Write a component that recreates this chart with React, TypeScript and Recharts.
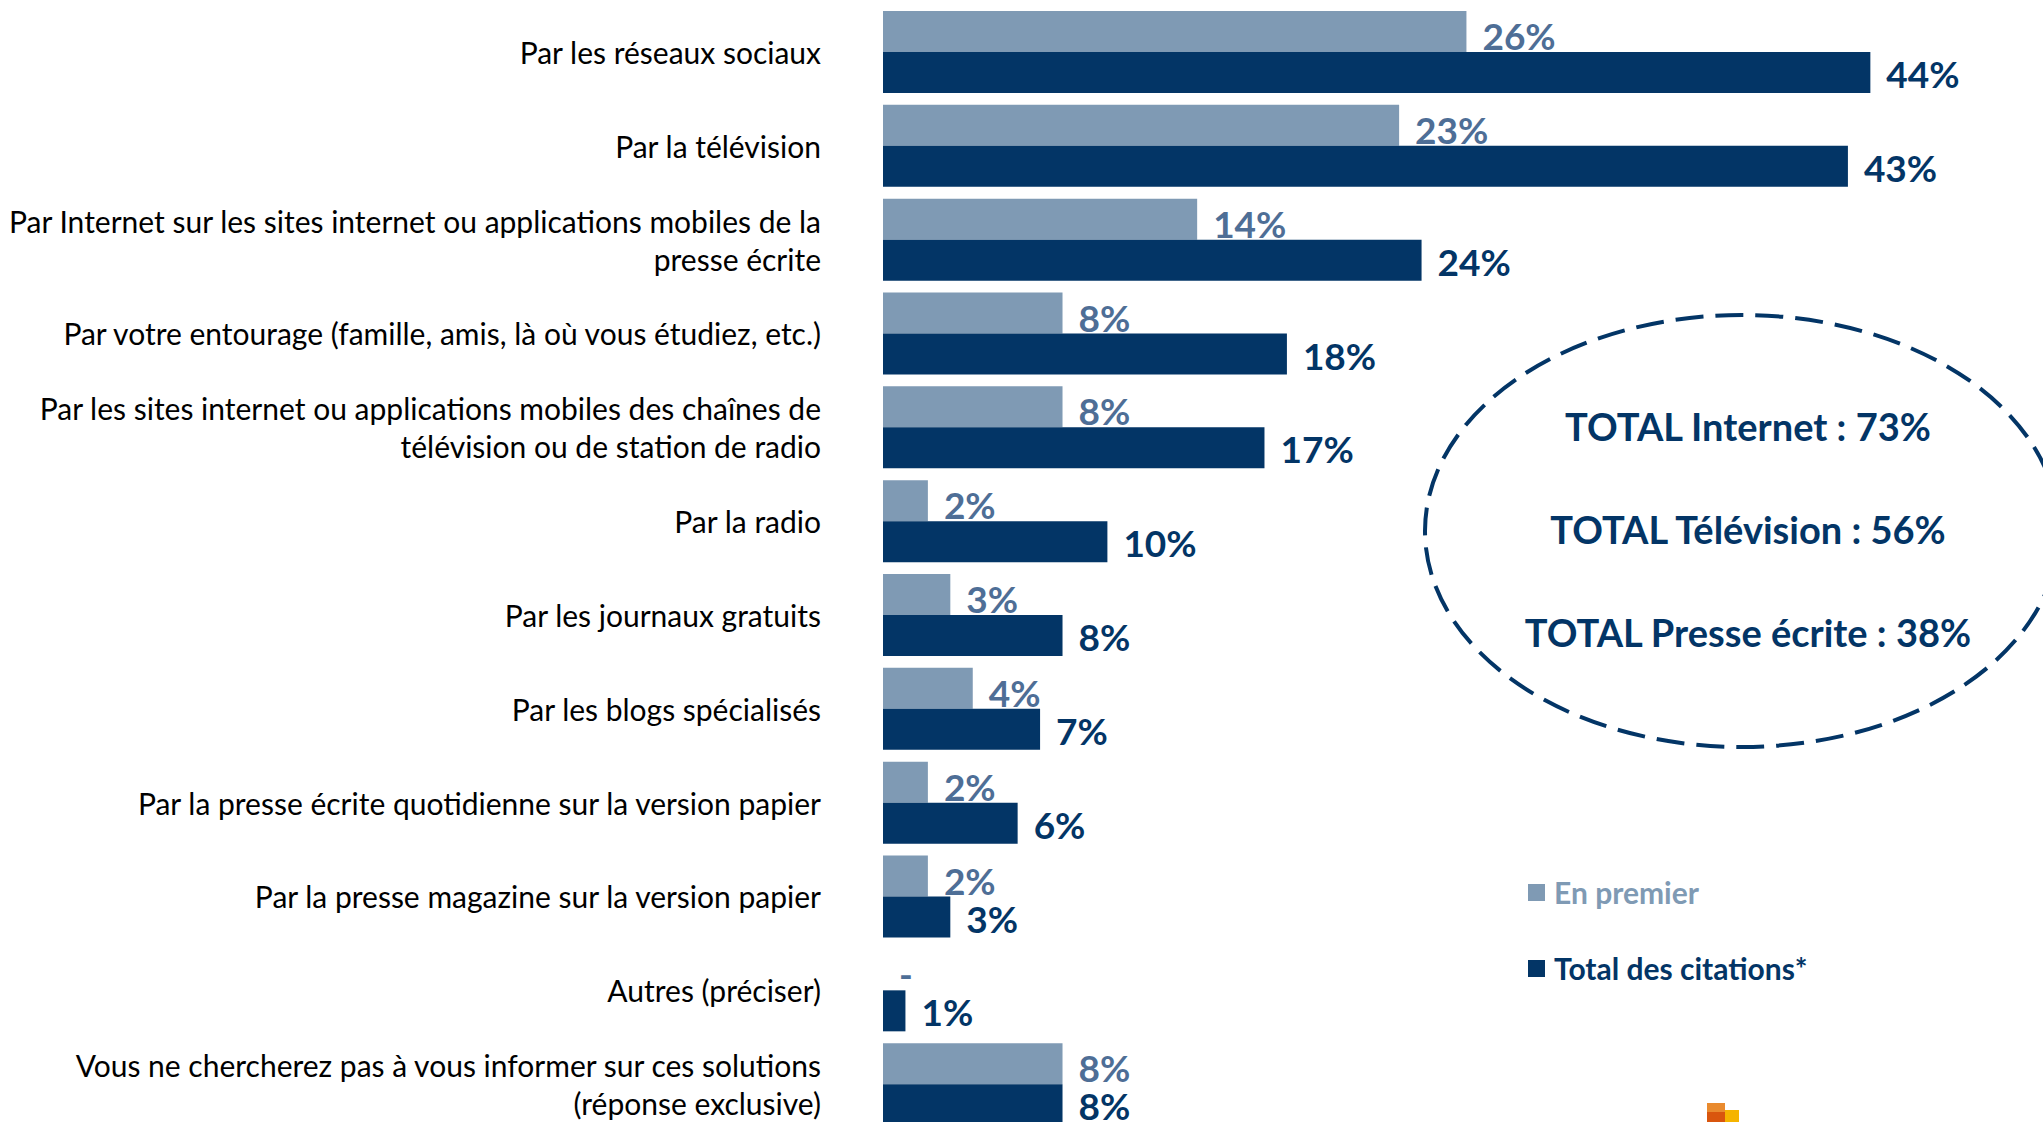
import React from "react";
import { BarChart, Bar, XAxis, YAxis, LabelList } from "recharts";

const categories: string[] = [
  "Par les réseaux sociaux",
  "Par la télévision",
  "Par Internet sur les sites internet ou applications mobiles de la\npresse écrite",
  "Par votre entourage (famille, amis, là où vous étudiez, etc.)",
  "Par les sites internet ou applications mobiles des chaînes de\ntélévision ou de station de radio",
  "Par la radio",
  "Par les journaux gratuits",
  "Par les blogs spécialisés",
  "Par la presse écrite quotidienne sur la version papier",
  "Par la presse magazine sur la version papier",
  "Autres (préciser)",
  "Vous ne chercherez pas à vous informer sur ces solutions\n(réponse exclusive)",
];

const enPremier: number[] = [26, 23, 14, 8, 8, 2, 3, 4, 2, 2, 0, 8];
const totalCitations: number[] = [44, 43, 24, 18, 17, 10, 8, 7, 6, 3, 1, 8];

const seriesNames = ["En premier", "Total des citations*"];
const totals: string[] = [
  "TOTAL Internet : 73%",
  "TOTAL Télévision : 56%",
  "TOTAL Presse écrite : 38%",
];

const LIGHT = "#7F9AB4";
const LIGHT_TEXT = "#4E6E96";
const DARK = "#033566";
const FONT = "Lato, 'Open Sans', sans-serif";

const data = categories.map((name, i) => ({
  name,
  first: enPremier[i],
  total: totalCitations[i],
}));

const CategoryTick = (props: any) => {
  const { x, y, payload } = props;
  const lines: string[] = String(payload.value).split("\n");
  const lh = 38;
  const start = -((lines.length - 1) * lh) / 2;
  return (
    <text
      x={x}
      y={y}
      textAnchor="end"
      fontFamily={FONT}
      fontSize={30}
      fill="#000000"
    >
      {lines.map((l, i) => (
        <tspan key={i} x={x} y={y + start + i * lh} dominantBaseline="central">
          {l}
        </tspan>
      ))}
    </text>
  );
};

const fmt = (v: number) => (v === 0 ? "-" : `${v}%`);

const LightLabel = (props: any) => {
  const { x, y, width, height, value } = props;
  return (
    <text
      x={Number(x) + Number(width) + 16}
      y={Number(y) + Number(height) / 2 + 4}
      dominantBaseline="central"
      fontFamily={FONT}
      fontWeight={700}
      fontSize={37}
      fill={LIGHT_TEXT}
    >
      {fmt(Number(value))}
    </text>
  );
};

// Dark label; also draws the "-" marker for an empty "En premier" bar,
// which Recharts does not label when its value is zero.
const DarkLabel = (props: any) => {
  const { x, y, width, height, value, index } = props;
  const h = Number(height);
  const firstVal = enPremier[index];
  return (
    <g>
      <text
        x={Number(x) + Number(width) + 16}
        y={Number(y) + h / 2 + 1}
        dominantBaseline="central"
        fontFamily={FONT}
        fontWeight={700}
        fontSize={37}
        fill={DARK}
      >
        {fmt(Number(value))}
      </text>
      {firstVal === 0 ? (
        <text
          x={Number(x) + 16}
          y={Number(y) - h / 2 + 4}
          dominantBaseline="central"
          fontFamily={FONT}
          fontWeight={700}
          fontSize={37}
          fill={LIGHT_TEXT}
        >
          {fmt(firstVal)}
        </text>
      ) : null}
    </g>
  );
};

const LegendBox = () => {
  const items = [
    { label: seriesNames[0], color: LIGHT },
    { label: seriesNames[1], color: DARK },
  ];
  return (
    <div
      style={{
        position: "absolute",
        left: 1528,
        top: 872,
        fontFamily: FONT,
      }}
    >
      {items.map((it, i) => (
        <div
          key={i}
          style={{
            display: "flex",
            alignItems: "center",
            height: 40,
            marginBottom: i === 0 ? 36 : 0,
          }}
        >
          <div
            style={{ width: 17, height: 17, background: it.color, marginRight: 9 }}
          />
          <span
            style={{ fontSize: 30, fontWeight: 700, color: it.color, whiteSpace: "nowrap" }}
          >
            {it.label}
          </span>
        </div>
      ))}
    </div>
  );
};

export default function App() {
  return (
    <div
      style={{
        position: "absolute",
        left: 0,
        top: 0,
        width: 2043,
        height: 1122,
        overflow: "hidden",
        background: "#ffffff",
      }}
    >
      <BarChart
        layout="vertical"
        width={2043}
        height={1131}
        data={data}
        margin={{ top: 5, right: 38, bottom: 0, left: 0 }}
        barCategoryGap={6}
        barGap={0}
      >
        <XAxis type="number" domain={[0, 50]} hide />
        <YAxis
          type="category"
          dataKey="name"
          width={883}
          axisLine={false}
          tickLine={false}
          tickSize={0}
          tickMargin={62}
          interval={0}
          tick={<CategoryTick />}
        />
        <Bar dataKey="first" name={seriesNames[0]} fill={LIGHT} isAnimationActive={false}>
          <LabelList dataKey="first" content={<LightLabel />} />
        </Bar>
        <Bar dataKey="total" name={seriesNames[1]} fill={DARK} isAnimationActive={false}>
          <LabelList dataKey="total" content={<DarkLabel />} />
        </Bar>
      </BarChart>
      <LegendBox />
      <svg
        width={2043}
        height={1122}
        style={{ position: "absolute", left: 0, top: 0, pointerEvents: "none" }}
      >
        <ellipse
          cx={1742}
          cy={531}
          rx={317}
          ry={216}
          fill="none"
          stroke={DARK}
          strokeWidth={4}
          strokeDasharray="28 12"
        />
        {totals.map((t, i) => (
          <text
            key={i}
            x={1748}
            y={426 + i * 103}
            textAnchor="middle"
            dominantBaseline="central"
            fontFamily={FONT}
            fontWeight={700}
            fontSize={38}
            fill={DARK}
          >
            {t}
          </text>
        ))}
        <rect x={1707} y={1103} width={18} height={10} fill="#E98A2E" />
        <rect x={1707} y={1112} width={18} height={10} fill="#D9560E" />
        <rect x={1725} y={1110} width={14} height={12} fill="#F5B400" />
      </svg>
    </div>
  );
}
